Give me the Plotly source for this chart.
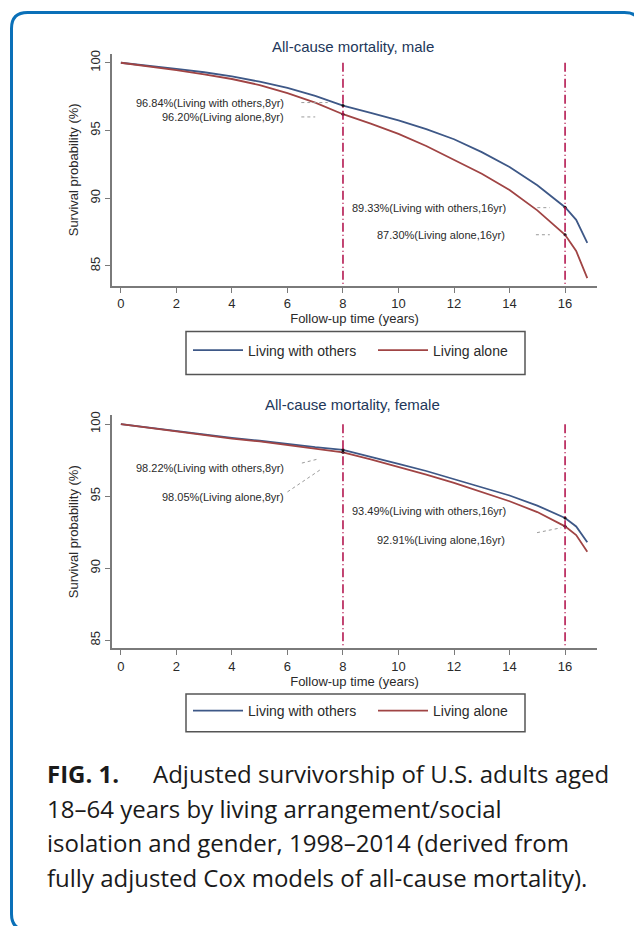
import plotly.graph_objects as go

# ---------------- data ----------------
years = [0, 1, 2, 3, 4, 5, 6, 7, 8, 9, 10, 11, 12, 13, 14, 15, 16, 16.4, 16.8]
male_others = [100, 99.8, 99.55, 99.3, 99.0, 98.6, 98.15, 97.55, 96.84, 96.3, 95.75,
               95.1, 94.35, 93.4, 92.3, 90.95, 89.33, 88.4, 86.7]
male_alone = [100, 99.75, 99.45, 99.15, 98.8, 98.35, 97.75, 97.05, 96.20, 95.5, 94.75,
              93.85, 92.85, 91.8, 90.6, 89.1, 87.30, 86.1, 84.1]
female_others = [100, 99.75, 99.5, 99.28, 99.05, 98.85, 98.62, 98.4, 98.22, 97.75, 97.25,
                 96.75, 96.2, 95.65, 95.05, 94.35, 93.49, 92.9, 91.8]
female_alone = [100, 99.74, 99.48, 99.25, 99.0, 98.8, 98.55, 98.3, 98.05, 97.55, 97.05,
                96.5, 95.92, 95.3, 94.65, 93.9, 92.91, 92.3, 91.15]

mark_years = [8, 16]
male_others_marks = [96.84, 89.33]
male_alone_marks = [96.20, 87.30]
female_others_marks = [98.22, 93.49]
female_alone_marks = [98.05, 92.91]

x_ticks = [0, 2, 4, 6, 8, 10, 12, 14, 16]
y_ticks = [85, 90, 95, 100]
series_names = ["Living with others", "Living alone"]
panel_titles = ["All-cause mortality, male", "All-cause mortality, female"]

# ---------------- style ----------------
OFF = 8                     # page body margin
W, H = 642 - OFF, 926 - OFF
BLUE = "rgb(62,88,135)"
RED = "rgb(160,68,68)"
VLINE = "rgb(180,24,80)"
AXIS = "#7a7a7a"
TXT = "#2a2a2a"
FONT = "Liberation Sans, Arial, sans-serif"


def PX(x):
    return (x - OFF) / W


def PY(y):
    return 1 - (y - OFF) / H


fig = go.Figure()

panels = [
    dict(xa="x", ya="y", others=male_others, alone=male_alone,
         om=male_others_marks, am=male_alone_marks, legend="legend",
         yrange=[83.53, 100.66], ydom=[PY(283), PY(50)]),
    dict(xa="x2", ya="y2", others=female_others, alone=female_alone,
         om=female_others_marks, am=female_alone_marks, legend="legend2",
         yrange=[84.45, 100.62], ydom=[PY(647), PY(413)]),
]

for p in panels:
    fig.add_trace(go.Scatter(x=years, y=p["others"], mode="lines", name=series_names[0],
                             line=dict(color=BLUE, width=1.8), xaxis=p["xa"], yaxis=p["ya"],
                             legend=p["legend"]))
    fig.add_trace(go.Scatter(x=years, y=p["alone"], mode="lines", name=series_names[1],
                             line=dict(color=RED, width=1.8), xaxis=p["xa"], yaxis=p["ya"],
                             legend=p["legend"]))
    fig.add_trace(go.Scatter(x=mark_years + mark_years, y=p["om"] + p["am"], mode="markers",
                             marker=dict(color="#111", size=3), showlegend=False,
                             xaxis=p["xa"], yaxis=p["ya"], hoverinfo="skip"))
    for yr in mark_years:
        fig.add_shape(type="line", xref=p["xa"], yref=p["ya"], x0=yr, x1=yr,
                      y0=100, y1=p["yrange"][0],
                      line=dict(color=VLINE, width=1.6, dash="9px,3px,1px,3px"))

axis_common = dict(showline=True, linecolor=AXIS, linewidth=1.6, ticks="outside",
                   ticklen=5, tickwidth=1.3, tickcolor=AXIS, showgrid=False, zeroline=False,
                   tickfont=dict(family=FONT, size=13, color=TXT))

xdom = [PX(112), PX(597)]
leg_common = dict(orientation="h", xanchor="left", yanchor="middle",
                  font=dict(family=FONT, size=14, color=TXT), bgcolor="rgba(0,0,0,0)",
                  entrywidth=120, itemwidth=50)
fig.update_layout(
    width=W, height=H, margin=dict(l=0, r=0, t=0, b=0),
    paper_bgcolor="white", plot_bgcolor="white",
    font=dict(family=FONT, color=TXT),
    xaxis=dict(domain=xdom, range=[-0.32, 17.15], tickvals=x_ticks, anchor="y",
               title=dict(text="Follow-up time (years)", font=dict(size=13, color=TXT), standoff=2),
               **axis_common),
    yaxis=dict(domain=panels[0]["ydom"], range=panels[0]["yrange"], tickvals=y_ticks,
               tickangle=-90, anchor="x",
               title=dict(text="Survival probability (%)", font=dict(size=13, color=TXT), standoff=6),
               **axis_common),
    xaxis2=dict(domain=xdom, range=[-0.32, 17.15], tickvals=x_ticks, anchor="y2",
                title=dict(text="Follow-up time (years)", font=dict(size=13, color=TXT), standoff=2),
                **axis_common),
    yaxis2=dict(domain=panels[1]["ydom"], range=panels[1]["yrange"], tickvals=y_ticks,
                tickangle=-90, anchor="x2",
                title=dict(text="Survival probability (%)", font=dict(size=13, color=TXT), standoff=6),
                **axis_common),
    legend=dict(x=PX(188), y=PY(348), **leg_common),
    legend2=dict(x=PX(188), y=PY(710), **leg_common),
    showlegend=True,
)

# legend boxes
for top, bot in [(329, 372), (693, 731)]:
    fig.add_shape(type="rect", xref="paper", yref="paper", x0=PX(186), x1=PX(525),
                  y0=PY(bot), y1=PY(top), line=dict(color="#555", width=1.5))

# panel titles
for title, ypx in zip(panel_titles, [43, 402]):
    fig.add_annotation(text=title, xref="paper", yref="paper", x=PX(353), y=PY(ypx),
                       showarrow=False, xanchor="center", yanchor="middle",
                       font=dict(family=FONT, size=15, color="#22375a"))

# value labels
label_font = dict(family=FONT, size=11, color=TXT)


def label(xa, ya, x, y, text, anchor):
    fig.add_annotation(text=text, xref=xa, yref=ya, x=x, y=y, showarrow=False,
                       xanchor=anchor, yanchor="middle", font=label_font)


def leader(xa, ya, x0, y0, x1, y1):
    fig.add_shape(type="line", xref=xa, yref=ya, x0=x0, y0=y0, x1=x1, y1=y1,
                  line=dict(color="#9a9a9a", width=1, dash="dot"))


# male
label("x", "y", 5.95, 97.0, f"{male_others_marks[0]:.2f}%(Living with others,8yr)", "right")
label("x", "y", 5.95, 95.97, f"{male_alone_marks[0]:.2f}%(Living alone,8yr)", "right")
label("x", "y", 8.25, 89.27, f"{male_others_marks[1]:.2f}%(Living with others,16yr)", "left")
label("x", "y", 13.92, 87.28, f"{male_alone_marks[1]:.2f}%(Living alone,16yr)", "right")
leader("x", "y", 6.5, 97.06, 7.45, 97.06)
leader("x", "y", 6.5, 96.0, 7.0, 96.0)
leader("x", "y", 15.0, 89.3, 15.45, 89.3)
leader("x", "y", 14.95, 87.3, 15.45, 87.3)

# female
label("x2", "y2", 5.95, 96.96, f"{female_others_marks[0]:.2f}%(Living with others,8yr)", "right")
label("x2", "y2", 5.95, 94.96, f"{female_alone_marks[0]:.2f}%(Living alone,8yr)", "right")
label("x2", "y2", 8.25, 93.99, f"{female_others_marks[1]:.2f}%(Living with others,16yr)", "left")
label("x2", "y2", 13.92, 91.98, f"{female_alone_marks[1]:.2f}%(Living alone,16yr)", "right")
leader("x2", "y2", 6.52, 97.3, 7.1, 97.58)
leader("x2", "y2", 6.0, 95.3, 7.17, 96.82)
leader("x2", "y2", 14.99, 92.47, 15.86, 92.81)

# caption
cap_font = dict(family="'Open Sans', Lato, sans-serif", size=24, color="#1a1a1a")
fig.add_annotation(text="<b>FIG. 1.</b>", xref="paper", yref="paper", x=PX(45), y=PY(773),
                   showarrow=False, xanchor="left", yanchor="middle", font=cap_font)
fig.add_annotation(text="Adjusted survivorship of U.S. adults aged", xref="paper", yref="paper",
                   x=PX(151), y=PY(773), showarrow=False, xanchor="left", yanchor="middle",
                   font=cap_font)
for txt, ypx in [("18–64 years by living arrangement/social", 808),
                 ("isolation and gender, 1998–2014 (derived from", 842),
                 ("fully adjusted Cox models of all-cause mortality).", 877)]:
    fig.add_annotation(text=txt, xref="paper", yref="paper", x=PX(45), y=PY(ypx),
                       showarrow=False, xanchor="left", yanchor="middle", font=cap_font)

# blue rounded frame
r = 16
x0, y0, x1, y1 = 11.5, 8.5, 640.5, 930
path = (f"M {PX(x0)},{PY(y1 - r)} L {PX(x0)},{PY(y0 + r)} "
        f"Q {PX(x0)},{PY(y0)} {PX(x0 + r)},{PY(y0)} "
        f"L {PX(x1 - r)},{PY(y0)} Q {PX(x1)},{PY(y0)} {PX(x1)},{PY(y0 + r)} "
        f"L {PX(x1)},{PY(y1 - r)} Q {PX(x1)},{PY(y1)} {PX(x1 - r)},{PY(y1)} "
        f"L {PX(x0 + r)},{PY(y1)} Q {PX(x0)},{PY(y1)} {PX(x0)},{PY(y1 - r)} Z")
fig.add_shape(type="path", xref="paper", yref="paper", path=path,
              line=dict(color="rgb(10,112,184)", width=3))

fig.write_html("out.html")
